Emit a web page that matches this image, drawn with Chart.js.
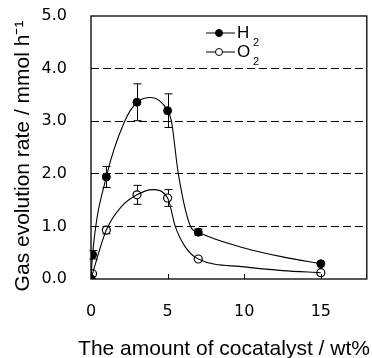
<!DOCTYPE html>
<html>
<head>
<meta charset="utf-8">
<script src="https://cdn.jsdelivr.net/npm/chart.js@4.4.0/dist/chart.umd.min.js"></script>
<style>
  html, body { margin: 0; padding: 0; background: #fff; }
  #wrap { width: 372px; height: 358px; }
</style>
</head>
<body>
<div id="wrap"><canvas id="gasChart"></canvas></div>
<script>
// measured points (cocatalyst loading in wt%, rate in mmol/h)
const h2Loading = [0, 0.1, 1, 3, 5, 7, 15];
const h2Rate = [0, 0.46, 1.94, 3.36, 3.2, 0.89, 0.29];
const h2Err = [0, 0.08, 0.2, 0.35, 0.32, 0.06, 0];

const o2Loading = [0, 0.1, 1, 3, 5, 7, 15];
const o2Rate = [0, 0.1, 0.93, 1.6, 1.54, 0.38, 0.12];
const o2Err = [0, 0, 0.07, 0.18, 0.16, 0, 0];

// guide curves as they are drawn in the figure
const h2CurveX = [0, 0.1, 1, 2.2, 3, 3.9, 5, 5.25, 5.7, 6.5, 7, 10, 12.5, 15];
const h2CurveY = [0, 0.46, 1.94, 3.0, 3.36, 3.45, 3.2, 3.0, 2.0, 1.0, 0.89, 0.59, 0.42, 0.29];
const o2CurveX = [0, 0.1, 1, 2, 3, 4, 5, 5.5, 6.15, 7, 10, 12.5, 15];
const o2CurveY = [0, 0.1, 0.93, 1.38, 1.6, 1.7, 1.54, 1.0, 0.61, 0.38, 0.23, 0.16, 0.12];

const xTicks = [0, 5, 10, 15];
const yTicks = [0, 1, 2, 3, 4, 5];
const seriesNames = ["H", "O"]; // both with subscript 2
const xTitle = "The amount of cocatalyst / wt%";
const yTitle = "Gas evolution rate / mmol h\u207B\u00B9";

function toPoints(xs, ys) {
  return xs.map((x, i) => ({ x: x, y: ys[i] }));
}

/**
 * Khung, vạch chia hướng vào trong, thanh sai số, chú thích và tên trục.
 */
const extrasPlugin = {
  id: "extras",
  beforeDatasetsDraw(chart) {
    const ctx = chart.ctx;
    const xs = chart.scales.x;
    const ys = chart.scales.y;
    ctx.save();
    ctx.strokeStyle = "#000";
    ctx.lineWidth = 1;
    const drawErr = (xv, yv, ev) => {
      ev.forEach((e, i) => {
        if (!e) return;
        const px = Math.round(xs.getPixelForValue(xv[i])) + 0.5;
        const top = ys.getPixelForValue(yv[i] + e);
        const bot = ys.getPixelForValue(yv[i] - e);
        ctx.beginPath();
        ctx.moveTo(px, top);
        ctx.lineTo(px, bot);
        ctx.moveTo(px - 4, top);
        ctx.lineTo(px + 4, top);
        ctx.moveTo(px - 4, bot);
        ctx.lineTo(px + 4, bot);
        ctx.stroke();
      });
    };
    drawErr(h2Loading, h2Rate, h2Err);
    drawErr(o2Loading, o2Rate, o2Err);
    ctx.restore();
  },
  afterDraw(chart) {
    const ctx = chart.ctx;
    const a = chart.chartArea;
    const xs = chart.scales.x;
    ctx.save();
    ctx.strokeStyle = "#000";
    ctx.lineWidth = 1.3;
    ctx.strokeRect(a.left, a.top, a.right - a.left, a.bottom - a.top);

    // inward ticks on the x axis
    ctx.lineWidth = 1;
    xTicks.forEach((v) => {
      const px = Math.round(xs.getPixelForValue(v)) + 0.5;
      ctx.beginPath();
      ctx.moveTo(px, a.bottom);
      ctx.lineTo(px, a.bottom - 5);
      ctx.stroke();
    });

    // legend
    const lx = 206;
    const rows = [33, 52];
    rows.forEach((y, i) => {
      ctx.beginPath();
      ctx.moveTo(lx, y);
      ctx.lineTo(lx + 29, y);
      ctx.stroke();
      ctx.beginPath();
      ctx.arc(lx + 13, y, 3.5, 0, Math.PI * 2);
      ctx.fillStyle = i === 0 ? "#000" : "#fff";
      ctx.fill();
      ctx.stroke();
      ctx.fillStyle = "#000";
      ctx.textBaseline = "middle";
      ctx.textAlign = "left";
      ctx.font = "17px 'Liberation Sans', Arial, sans-serif";
      ctx.fillText(seriesNames[i], lx + 31, y);
      ctx.font = "11px 'Liberation Sans', Arial, sans-serif";
      ctx.fillText("2", lx + 47, y + 10);
    });

    // axis titles
    ctx.fillStyle = "#000";
    ctx.font = "21px 'Liberation Sans', Arial, sans-serif";
    ctx.textAlign = "center";
    ctx.textBaseline = "alphabetic";
    ctx.fillText(xTitle, 224, 355);
    ctx.save();
    ctx.translate(29, 156);
    ctx.rotate(-Math.PI / 2);
    ctx.fillText(yTitle, 0, 0);
    ctx.restore();
    ctx.restore();
  },
};

const lineStyle = {
  showLine: true,
  borderColor: "#000",
  borderWidth: 1.1,
  pointRadius: 0,
  cubicInterpolationMode: "monotone",
  fill: false,
};

new Chart(document.getElementById("gasChart"), {
  type: "scatter",
  data: {
    datasets: [
      Object.assign({ label: "H2 curve", data: toPoints(h2CurveX, h2CurveY) }, lineStyle),
      Object.assign({ label: "O2 curve", data: toPoints(o2CurveX, o2CurveY) }, lineStyle),
      {
        label: "H2",
        data: toPoints(h2Loading, h2Rate),
        showLine: false,
        pointRadius: 4,
        pointBackgroundColor: "#000",
        pointBorderColor: "#000",
        pointBorderWidth: 1,
      },
      {
        label: "O2",
        data: toPoints(o2Loading, o2Rate),
        showLine: false,
        pointRadius: 4,
        pointBackgroundColor: "#fff",
        pointBorderColor: "#000",
        pointBorderWidth: 1.2,
      },
    ],
  },
  options: {
    responsive: true,
    maintainAspectRatio: false,
    animation: false,
    devicePixelRatio: 1,
    layout: { padding: { top: 16, right: 1, left: 0, bottom: 0 } },
    plugins: {
      legend: { display: false },
      tooltip: { enabled: false },
    },
    scales: {
      x: {
        type: "linear",
        min: 0,
        max: 18,
        afterBuildTicks: (s) => {
          s.ticks = xTicks.map((v) => ({ value: v }));
        },
        afterFit: (s) => {
          s.height = 79;
          s.paddingLeft = 0;
          s.paddingRight = 0;
        },
        grid: { display: false, drawTicks: false },
        border: { display: false },
        ticks: {
          padding: 23,
          color: "#000",
          font: { family: "'DejaVu Sans'", size: 16 },
        },
      },
      y: {
        min: 0,
        max: 5,
        afterBuildTicks: (s) => {
          s.ticks = yTicks.map((v) => ({ value: v }));
        },
        afterFit: (s) => {
          s.width = 91;
          s.paddingTop = 0;
          s.paddingBottom = 0;
        },
        grid: {
          drawTicks: false,
          color: (c) => (c.tick && (c.tick.value === 0 || c.tick.value === 5) ? "rgba(0,0,0,0)" : "#000"),
          lineWidth: 1,
        },
        border: { display: false, dash: [8, 4] },
        ticks: {
          padding: 24,
          color: "#000",
          font: { family: "'DejaVu Sans'", size: 16 },
          callback: (v) => v.toFixed(1),
        },
      },
    },
  },
  plugins: [extrasPlugin],
});
</script>
</body>
</html>
